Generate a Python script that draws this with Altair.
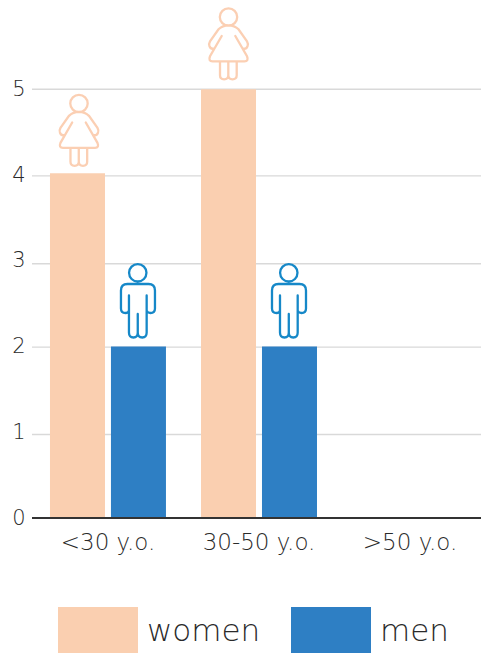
import altair as alt
import pandas as pd

# Survey counts by age band
age_bands = ["<30 y.o.", "30-50 y.o.", ">50 y.o."]
women = [4.02, 5, 0]
men = [2, 2, 0]
tick_values = [0, 1, 2, 3, 4, 5]
grid_levels = [0.973, 1.993, 2.965, 3.99, 5]

WOMEN_COLOR = "#FACFB0"
MEN_COLOR = "#2E7FC4"
MEN_ICON = "#1688C8"
TEXT = "#2A2A2A"
FONT = "DejaVu Sans"


# Pictograms: origin sits on the top centre of a bar, one path unit is one pixel at size=4
def woman_path(ox=0.0, oy=0.0):
    def p(x, y):
        return f"{x + ox},{y + oy}"

    return (
        f"M{p(8.7, -72.3)}A8.7,8.7 0 1 1 {p(-8.7, -72.3)}A8.7,8.7 0 1 1 {p(8.7, -72.3)}Z"
        f"M{p(-14, -41)}Q{p(-17.5, -39.5)} {p(-19, -43)}Q{p(-20, -45.5)} {p(-18.5, -48)}"
        f"L{p(-10, -60)}Q{p(-6, -64)} {p(0, -64)}Q{p(6, -64)} {p(10, -60)}L{p(18.5, -48)}"
        f"Q{p(20, -45.5)} {p(19, -43)}Q{p(17.5, -39.5)} {p(14, -41)}"
        f"M{p(-6.8, -53.3)}L{p(-18.5, -33)}Q{p(-20.5, -28)} {p(-16, -28)}L{p(16, -28)}"
        f"Q{p(20.5, -28)} {p(18.5, -33)}L{p(6.8, -53.3)}"
        f"M{p(-8.5, -28)}L{p(-8.5, -14)}Q{p(-8.5, -10)} {p(-4.4, -10)}Q{p(-0.2, -10)} {p(-0.2, -14)}L{p(-0.2, -28)}"
        f"M{p(-0.2, -14)}Q{p(-0.2, -10)} {p(4, -10)}Q{p(8.2, -10)} {p(8.2, -14)}L{p(8.2, -28)}"
    )


MAN_PATH = (
    "M8,-73.7A8.7,8.7 0 1 1 -9.4,-73.7A8.7,8.7 0 1 1 8,-73.7Z"
    "M-9.5,-51V-14Q-9.5,-9 -5,-9Q-0.7,-9 -0.7,-14V-32.5"
    "M-0.7,-14Q-0.7,-9 3.8,-9Q8.2,-9 8.2,-14V-51"
    "M-9.5,-36Q-10,-33.5 -13,-33.5Q-17.5,-33.5 -17.5,-38V-56Q-17.5,-62.5 -11,-62.5H10"
    "Q16.5,-62.5 16.5,-56V-38Q16.5,-33.5 12,-33.5Q9,-33.5 8.2,-36"
)
SWATCH_PATH = "M-1,-0.625H1V0.525H-1Z"

rows = pd.DataFrame(
    [{"age": a, "group": "women", "count": v} for a, v in zip(age_bands, women)]
    + [{"age": a, "group": "men", "count": v} for a, v in zip(age_bands, men)]
)
grid = pd.DataFrame({"level": grid_levels})
baseline = pd.DataFrame({"level": [0]})

y_scale = alt.Scale(domain=[0, 6.0415], nice=False, zero=True)
x_scale = alt.Scale(domain=age_bands, range=[0, 454], paddingInner=0.232, paddingOuter=0.119)
offset_scale = alt.Scale(domain=["women", "men"], paddingInner=0.098, paddingOuter=0)

x_axis = alt.Axis(domain=False, ticks=False, labelAngle=0, labelFont=FONT,
                  labelFontSize=23, labelFontWeight=200, labelColor=TEXT,
                  labelPadding=24, labelBaseline="middle", grid=False)
y_axis = alt.Axis(values=tick_values, domain=False, ticks=False, grid=False,
                  labelFont=FONT, labelFontSize=21, labelFontWeight=200,
                  labelColor=TEXT, labelPadding=7, format="d")

x_enc = alt.X("age:N", scale=x_scale, sort=age_bands, title=None, axis=x_axis)
y_enc = alt.Y("count:Q", scale=y_scale, title=None, axis=y_axis)
offset_enc = alt.XOffset("group:N", scale=offset_scale, sort=["women", "men"])

grid_rules = alt.Chart(grid).mark_rule(color="#D9D9D9", strokeWidth=1.4).encode(
    y=alt.Y("level:Q", scale=y_scale, title=None, axis=y_axis),
    x=alt.value(0), x2=alt.value(449),
)

bars = alt.Chart(rows).mark_bar(strokeWidth=0).encode(
    x=x_enc, xOffset=offset_enc, y=y_enc,
    color=alt.Color(
        "group:N",
        scale=alt.Scale(domain=["women", "men"], range=[WOMEN_COLOR, MEN_COLOR]),
        legend=alt.Legend(
            title=None, orient="none", legendX=26, legendY=592, direction="horizontal",
            columns=2, padding=0, columnPadding=30, symbolType=SWATCH_PATH, symbolSize=6400,
            symbolStrokeWidth=0, labelFont=FONT, labelFontSize=31, labelFontWeight=200,
            labelColor=TEXT, labelOffset=9, labelLimit=200,
        ),
    ),
)


def icons(condition, path, color):
    return alt.Chart(rows).transform_filter(condition).mark_point(
        shape=path, size=4, filled=False, stroke=color, strokeWidth=2.3,
        opacity=1, strokeCap="round",
    ).encode(x=x_enc, xOffset=offset_enc, y=y_enc)


# The first woman sits slightly off her bar's centre
first_woman = icons(f"datum.group == 'women' && datum.age == '{age_bands[0]}'",
                    woman_path(1.5, 2.5), "#FBCFB3")
other_women = icons(f"datum.group == 'women' && datum.count > 0 && datum.age != '{age_bands[0]}'",
                    woman_path(), "#FBCFB3")
man_icons = icons("datum.group == 'men' && datum.count > 0", MAN_PATH, MEN_ICON)

base_rule = alt.Chart(baseline).mark_rule(color="#333333", strokeWidth=2).encode(
    y=alt.Y("level:Q", scale=y_scale, title=None, axis=y_axis),
    x=alt.value(0), x2=alt.value(449),
)

chart = alt.layer(grid_rules, bars, first_woman, other_women, man_icons, base_rule).properties(
    width=449, height=518,
    padding={"left": 32, "top": 0, "right": 0, "bottom": 135},
    autosize=alt.AutoSizeParams(type="none"),
    background="white",
).configure_view(stroke=None)

chart.save("out.html", embed_options={"renderer": "svg", "actions": False})
